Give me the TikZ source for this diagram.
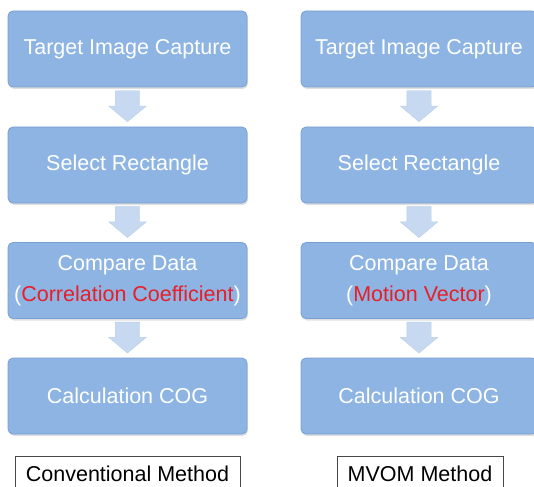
\documentclass[tikz,border=0pt]{standalone}
\usepackage{fontspec}
\setmainfont{Liberation Sans}
\usetikzlibrary{shapes.arrows,shadows,calc}
\definecolor{boxblue}{RGB}{141,180,226}
\definecolor{boxedge}{RGB}{120,160,212}
\definecolor{arrowblue}{RGB}{198,217,241}
\definecolor{arrowedge}{RGB}{184,206,234}
\definecolor{hotred}{RGB}{232,30,40}
\definecolor{framegray}{RGB}{70,70,70}
\tikzset{
  stepbox/.style={rectangle, rounded corners=5pt, fill=boxblue, draw=boxedge,
    line width=0.8pt, minimum height=76pt, text=white, align=center,
    font=\fontsize{21.5}{31}\selectfont,
    drop shadow={opacity=0.25, shadow xshift=1pt, shadow yshift=-2pt}},
  flowarrow/.style={single arrow, shape border rotate=270, fill=arrowblue,
    draw=arrowedge, line width=0.4pt, minimum height=31pt,
    inner xsep=12pt, inner ysep=0pt, single arrow head extend=6.5pt,
    single arrow tip angle=100, anchor=center},
  caption/.style={rectangle, draw=framegray, line width=0.8pt, fill=white,
    minimum height=36pt, anchor=north, text=black,
    font=\fontsize{21.5}{25}\selectfont, text depth=0pt},
}
\newcommand{\redtxt}[1]{\textcolor{hotred}{#1}}
\begin{document}
\begin{tikzpicture}[x=1pt,y=-1pt]
  \useasboundingbox (0,0) rectangle (534,486);
  \clip (0,0) rectangle (534,486);

  % conventional method column
  \node[stepbox, minimum width=239pt] (l1) at (127.5,49) {Target Image Capture};
  \node[stepbox, minimum width=239pt] (l2) at (127.5,165) {Select Rectangle};
  \node[stepbox, minimum width=239pt] (l3) at (127.5,280.5) {Compare Data\\(\redtxt{Correlation Coefficient})};
  \node[stepbox, minimum width=239pt] (l4) at (127.5,396) {Calculation COG};

  % MVOM column
  \node[stepbox, minimum width=236pt] (r1) at (419,49) {Target Image Capture};
  \node[stepbox, minimum width=236pt] (r2) at (419,165) {Select Rectangle};
  \node[stepbox, minimum width=236pt] (r3) at (419,280.5) {Compare Data\\(\redtxt{Motion Vector})};
  \node[stepbox, minimum width=236pt] (r4) at (419,396) {Calculation COG};

  % block arrows between the steps
  \foreach \c in {l,r}{
    \foreach \a/\b in {1/2,2/3,3/4}{
      \node[flowarrow] (\c\a\b) at ($(\c\a.south)!0.35!(\c\b.north)$) {};
    }
  }

  % method captions
  \node[caption, minimum width=225pt] (capl) at (127.5,455.5) {Conventional Method};
  \node[caption, minimum width=166pt] (capr) at (420,455.5) {MVOM Method};
\end{tikzpicture}
\end{document}
